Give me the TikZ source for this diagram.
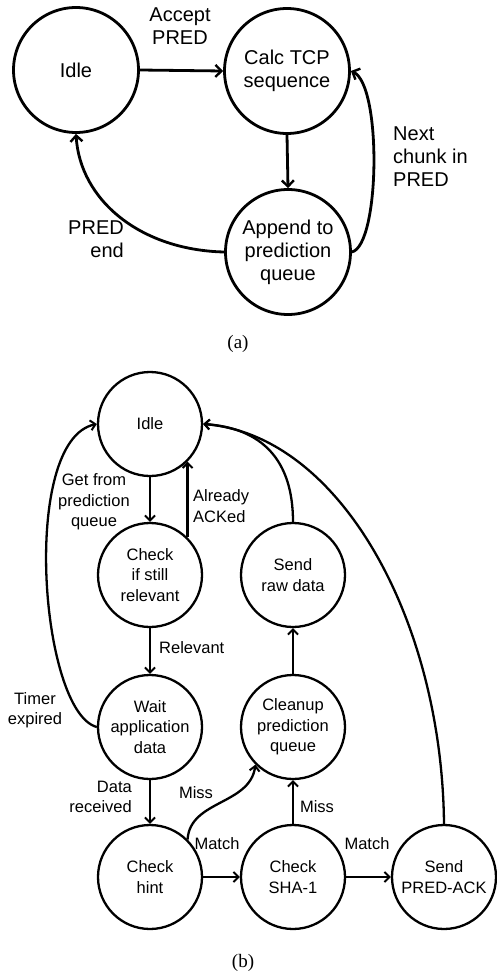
\documentclass[tikz,border=0pt]{standalone}
\usepackage{fontspec}
\setmainfont{Liberation Sans}
\newfontfamily\capfont{Liberation Serif}
\usetikzlibrary{arrows.meta}
\begin{document}
\begin{tikzpicture}[x=1pt,y=-1pt,
  bigstate/.style={circle,draw,line width=2.8pt,minimum size=125pt,inner sep=0pt,align=center,
    font=\fontsize{20}{23}\selectfont},
  smallstate/.style={circle,draw,line width=2.3pt,minimum size=104pt,inner sep=0pt,align=center,
    font=\fontsize{16.5}{20.5}\selectfont},
  biglbl/.style={font=\fontsize{20}{23}\selectfont,inner sep=0pt},
  smalllbl/.style={font=\fontsize{16.5}{20.5}\selectfont,inner sep=0pt},
  bigarr/.style={line width=2.8pt,-{Straight Barb[length=6pt,width=12pt,line width=2.4pt]}},
  smallarr/.style={line width=2.3pt,-{Straight Barb[length=5pt,width=10pt,line width=2pt]}},
  caplbl/.style={font=\capfont\fontsize{19}{22}\selectfont,inner sep=0pt}]
\useasboundingbox (0,0) rectangle (496,971);

% ---------- (a) ----------
\node[bigstate] (aidle) at (76,70) {Idle};
\node[bigstate] (acalc) at (287,71) {Calc TCP\\sequence};
\node[bigstate] (aapp) at (288,252) {Append to\\prediction\\queue};

\draw[bigarr] (aidle.east) -- (acalc.west);
\draw[bigarr] (acalc.south) -- (aapp.north);
\draw[bigarr] (aapp.east) .. controls (380,245) and (382,85) .. (acalc.east);
\draw[bigarr] (aapp.west) .. controls (140,250) and (80,200) .. (aidle.south);

\node[biglbl,align=center] (laccept) at (180,26) {Accept\\PRED};
\node[biglbl,align=left,anchor=west] (lnext) at (393,157) {Next\\chunk in\\PRED};
\node[biglbl,align=right,anchor=east] (lend) at (124,239) {PRED\\end};

\node[caplbl] (capa) at (238,344) {(a)};

% ---------- (b) ----------
\node[smallstate] (idle) at (150,424) {Idle};
\node[smallstate] (chk) at (150,575) {Check\\if still\\relevant};
\node[smallstate] (raw) at (293,575) {Send\\raw data};
\node[smallstate] (wait) at (150,727) {Wait\\application\\data};
\node[smallstate] (clean) at (293,727) {Cleanup\\prediction\\queue};
\node[smallstate] (hint) at (150,877) {Check\\hint};
\node[smallstate] (sha) at (293,877) {Check\\SHA-1};
\node[smallstate] (ack) at (444,877) {Send\\PRED-ACK};

\draw[smallarr] (idle.south) -- (chk.north);
\draw[smallarr] (chk.45) -- (idle.-45);
\draw[smallarr] (chk.south) -- (wait.north);
\draw[smallarr] (wait.south) -- (hint.north);
\draw[smallarr] (hint.east) -- (sha.west);
\draw[smallarr] (sha.east) -- (ack.west);
\draw[smallarr] (sha.north) -- (clean.south);
\draw[smallarr] (clean.north) -- (raw.south);
\draw[smallarr] (raw.north) .. controls (293,460) and (262,428) .. (idle.east);
\draw[smallarr] (ack.north) .. controls (442,620) and (340,435) .. (idle.east);
\draw[smallarr] (wait.west) .. controls (40,712) and (20,440) .. (idle.west);
\draw[smallarr] (hint.45) .. controls (190,800) and (250,805) .. (clean.-135);

\node[smalllbl,align=center] (lget) at (94,502) {Get from\\prediction\\queue};
\node[smalllbl,align=left,anchor=west] (lack) at (193,506) {Already\\ACKed};
\node[smalllbl,anchor=west] (lrel) at (159,648) {Relevant};
\node[smalllbl,align=center] (ltimer) at (35,710) {Timer\\expired};
\node[smalllbl,align=right,anchor=east] (ldata) at (132,797) {Data\\received};
\node[smalllbl] (lmiss1) at (196,793) {Miss};
\node[smalllbl] (lmatch1) at (217,844) {Match};
\node[smalllbl] (lmiss2) at (317,807) {Miss};
\node[smalllbl] (lmatch2) at (367,844) {Match};

\node[caplbl] (capb) at (243,963) {(b)};
\end{tikzpicture}
\end{document}
